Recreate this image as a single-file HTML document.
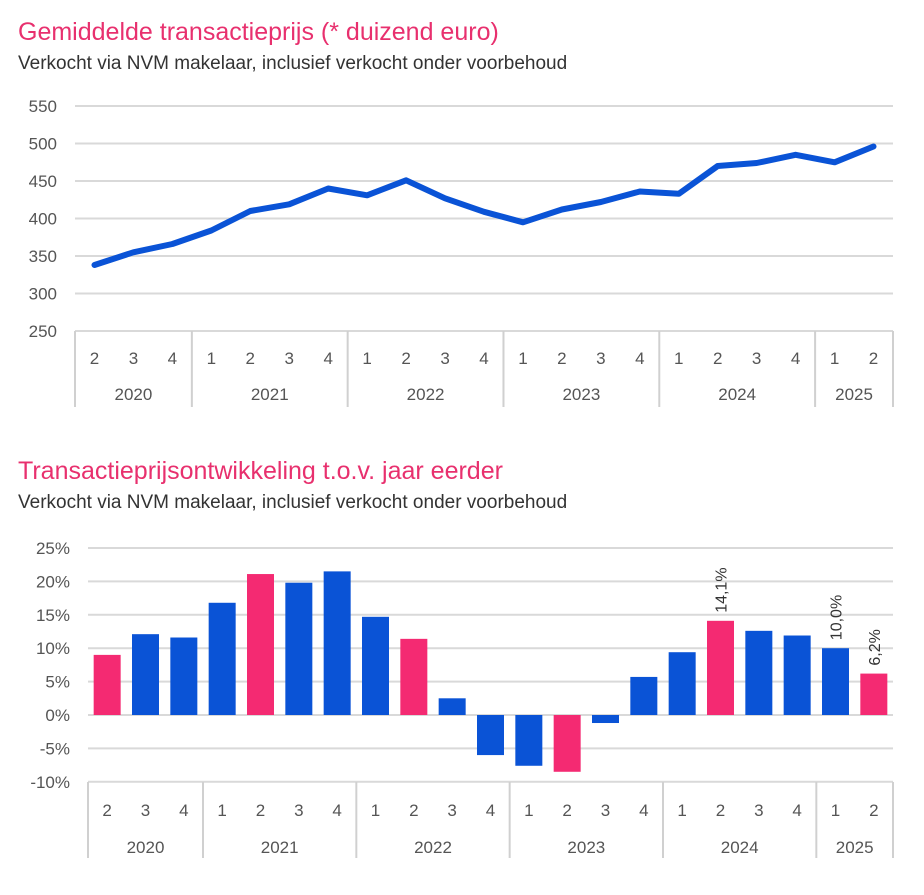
<!DOCTYPE html>
<html><head><meta charset="utf-8"><style>
body{margin:0;background:#fff;font-family:"Liberation Sans",sans-serif;}
svg text{font-family:"Liberation Sans",sans-serif;}
</style></head><body>
<svg width="924" height="890" viewBox="0 0 924 890">
<text x="18" y="40" font-size="25" fill="#e8306e">Gemiddelde transactieprijs (* duizend euro)</text>
<text x="18" y="69" font-size="19" fill="#333">Verkocht via NVM makelaar, inclusief verkocht onder voorbehoud</text>
<text x="18" y="479" font-size="25" fill="#e8306e">Transactieprijsontwikkeling t.o.v. jaar eerder</text>
<text x="18" y="508" font-size="19" fill="#333">Verkocht via NVM makelaar, inclusief verkocht onder voorbehoud</text>
<g id="top"></g>
<g id="bot"></g>
</svg>
<script>
const quarters=["2","3","4","1","2","3","4","1","2","3","4","1","2","3","4","1","2","3","4","1","2"];
const years=["2020","2021","2022","2023","2024","2025"];
const yearCounts=[3,4,4,4,4,2];
const prices=[338,355,366,384,410,419,440,431,451,427,409,395,412,422,436,433,470,474,485,475,496];
const priceTicks=[250,300,350,400,450,500,550];
const growth=[9.0,12.1,11.6,16.8,21.1,19.8,21.5,14.7,11.4,2.5,-6.0,-7.6,-8.5,-1.2,5.7,9.4,14.1,12.6,11.9,10.0,6.2];
const growthTicks=[-10,-5,0,5,10,15,20,25];
const labelled=[16,19,20];
const NS="http://www.w3.org/2000/svg";
function mk(p,t,a,txt){const e=document.createElementNS(NS,t);for(const k in a)e.setAttribute(k,a[k]);if(txt!==undefined)e.textContent=txt;p.appendChild(e);return e;}
function xaxis(g,x0,x1,ybase,yq,yy,ybot){
  const n=quarters.length,step=(x1-x0)/n;
  quarters.forEach((q,i)=>{const t=mk(g,'text',{x:x0+step*(i+.5),y:yq,'font-size':17,fill:'#555','text-anchor':'middle'},q);
    
    });
  let c=0;mk(g,'line',{x1:x0,x2:x0,y1:ybase,y2:ybot,stroke:'#d0d0d0','stroke-width':2});
  years.forEach((y,i)=>{const s=x0+c*step;c+=yearCounts[i];const e=x0+c*step;
    mk(g,'line',{x1:e,x2:e,y1:ybase,y2:ybot,stroke:'#d0d0d0','stroke-width':2});
    const t=mk(g,'text',{x:(s+e)/2,y:yy,'font-size':17,fill:'#555','text-anchor':'middle'},y);
    
    });
  return step;
}
// top
(function(){const g=document.getElementById('top');const x0=75,x1=893;
 const Y=v=>331-(v-250)*(225/300);
 priceTicks.forEach(v=>{mk(g,'line',{x1:x0,x2:x1,y1:Y(v),y2:Y(v),stroke:'#d9d9d9','stroke-width':2});
  const t=mk(g,'text',{x:57,y:Y(v)+6,'font-size':17,fill:'#555','text-anchor':'end'},v);
  
  });
 const step=xaxis(g,x0,x1,331,364,400,407);
 const pts=prices.map((v,i)=>(x0+step*(i+.5)).toFixed(1)+','+Y(v).toFixed(1)).join(' ');
 const l=mk(g,'polyline',{points:pts,fill:'none',stroke:'#0a53d6','stroke-width':6,'stroke-linejoin':'round','stroke-linecap':'round'});
 
 
})();
// bottom
(function(){const g=document.getElementById('bot');const x0=88,x1=893;
 const Y=v=>715-v*(167/25);
 growthTicks.forEach(v=>{mk(g,'line',{x1:x0,x2:x1,y1:Y(v),y2:Y(v),stroke:'#d9d9d9','stroke-width':2});
  const t=mk(g,'text',{x:70,y:Y(v)+6,'font-size':17,fill:'#555','text-anchor':'end'},v+'%');
  
  });
 const step=xaxis(g,x0,x1,782,816,853,858);
 growth.forEach((v,i)=>{const cx=x0+step*(i+.5),w=27;
  const r=mk(g,'rect',{x:cx-w/2,y:Math.min(Y(v),Y(0)),width:w,height:Math.abs(Y(v)-Y(0)),fill:quarters[i]==="2"?'#f42a72':'#0a53d6'});
  
  
  if(labelled.includes(i)){const ty=Y(v)-8;
   const t=mk(g,'text',{x:cx+6,y:ty,'font-size':16,fill:'#333',transform:`rotate(-90 ${cx+6} ${ty})`},v.toFixed(1).replace('.',',')+'%');
   
   }
 });
})();
</script>
</body></html>
